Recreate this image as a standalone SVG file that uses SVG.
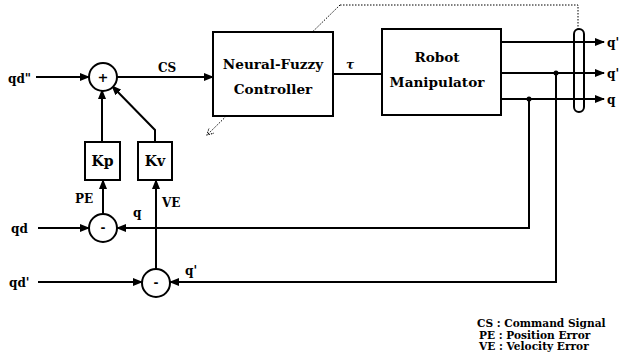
<svg xmlns="http://www.w3.org/2000/svg" width="620" height="364" viewBox="0 0 620 364">
<style>
.ln{fill:none;stroke:#000;stroke-width:2}
.bx{fill:#fff;stroke:#000;stroke-width:2}
.dot{fill:none;stroke:#000;stroke-width:1;stroke-dasharray:1.5 1.5}
text{font-family:"DejaVu Serif","Liberation Serif",serif;font-weight:bold;fill:#000}
.big{font-size:13.6px;text-anchor:middle}
.lb{font-size:12px}
.lg{font-size:10.6px}
</style>
<defs>
<marker id="ah" markerUnits="userSpaceOnUse" markerWidth="10" markerHeight="8" refX="9" refY="4" orient="auto">
<path d="M0,0 L10,4 L0,8 z" fill="#000"/>
</marker>
<marker id="oh" markerUnits="userSpaceOnUse" markerWidth="8" markerHeight="8" refX="7" refY="4" orient="auto">
<path d="M0,0 L7,4 L0,8" fill="none" stroke="#000" stroke-width="1" stroke-dasharray="1.5 1"/>
</marker>
</defs>
<rect width="620" height="364" fill="#fff"/>
<g id="connectors">
<path class="dot" d="M340,5 L207,135" marker-end="url(#oh)"/>
<path class="dot" d="M340,5 H578 V29"/>
<path class="ln" d="M36,77 H89" marker-end="url(#ah)"/>
<path class="ln" d="M117,77 H213" marker-end="url(#ah)"/>
<path class="ln" d="M333,74 H382"/>
<path class="ln" d="M501,42 H604" marker-end="url(#ah)"/>
<path class="ln" d="M501,73 H604" marker-end="url(#ah)"/>
<path class="ln" d="M501,99 H604" marker-end="url(#ah)"/>
<path class="ln" d="M529,99 V228 H117" marker-end="url(#ah)"/>
<path class="ln" d="M556,73 V282 H170" marker-end="url(#ah)"/>
<path class="ln" d="M38,228 H89" marker-end="url(#ah)"/>
<path class="ln" d="M38,282 H142" marker-end="url(#ah)"/>
<path class="ln" d="M103,214 V180" marker-end="url(#ah)"/>
<path class="ln" d="M156,269 V180" marker-end="url(#ah)"/>
<path class="ln" d="M102,142 V90" marker-end="url(#ah)"/>
<path class="ln" d="M155,142 V130 L112,86" marker-end="url(#ah)"/>
<circle cx="529" cy="99" r="2.5" fill="#000"/>
<circle cx="556" cy="73" r="2.5" fill="#000"/>
<text class="lb" x="158" y="72">CS</text>
<text class="lb" x="346" y="69" font-style="italic">τ</text>
<text class="lb" x="75" y="203">PE</text>
<text class="lb" x="162" y="207">VE</text>
<text class="lb" x="133" y="217">q</text>
<text class="lb" x="185" y="275">q'</text>
</g>
<g id="bus">
<rect x="574" y="29" width="10" height="83" rx="5" fill="none" stroke="#000" stroke-width="2"/>
</g>
<g id="sum">
<circle cx="103" cy="77" r="14" class="bx"/>
<text x="103" y="82" font-size="13" text-anchor="middle" font-weight="normal">+</text>
</g>
<g id="nfc">
<rect x="213" y="32" width="120" height="84" class="bx"/>
<text class="big" x="273" y="69">Neural-Fuzzy</text>
<text class="big" x="273" y="94">Controller</text>
</g>
<g id="robot">
<rect x="382" y="29" width="119" height="86" class="bx"/>
<text class="big" x="437" y="62">Robot</text>
<text class="big" x="437" y="87">Manipulator</text>
</g>
<g id="kp">
<rect x="85" y="142" width="35" height="38" class="bx"/>
<text x="102.5" y="166" font-size="14" text-anchor="middle">Kp</text>
</g>
<g id="kv">
<rect x="138" y="142" width="34" height="38" class="bx"/>
<text x="155" y="166" font-size="14" text-anchor="middle">Kv</text>
</g>
<g id="pe-sub">
<circle cx="103" cy="228" r="14" class="bx"/>
<text x="103" y="232" font-size="12" text-anchor="middle">-</text>
</g>
<g id="ve-sub">
<circle cx="156" cy="283" r="14" class="bx"/>
<text x="156" y="287" font-size="12" text-anchor="middle">-</text>
</g>
<g id="labels">
<text class="lb" x="8" y="83">qd"</text>
<text class="lb" x="11" y="233">qd</text>
<text class="lb" x="9" y="287">qd'</text>
<text class="lb" x="607" y="47">q'</text>
<text class="lb" x="607" y="78">q'</text>
<text class="lb" x="607" y="104">q</text>
</g>
<g id="legend">
<text class="lg" x="477" y="327">CS : Command Signal</text>
<text class="lg" x="479" y="339">PE : Position Error</text>
<text class="lg" x="479" y="350">VE : Velocity Error</text>
</g>
</svg>
